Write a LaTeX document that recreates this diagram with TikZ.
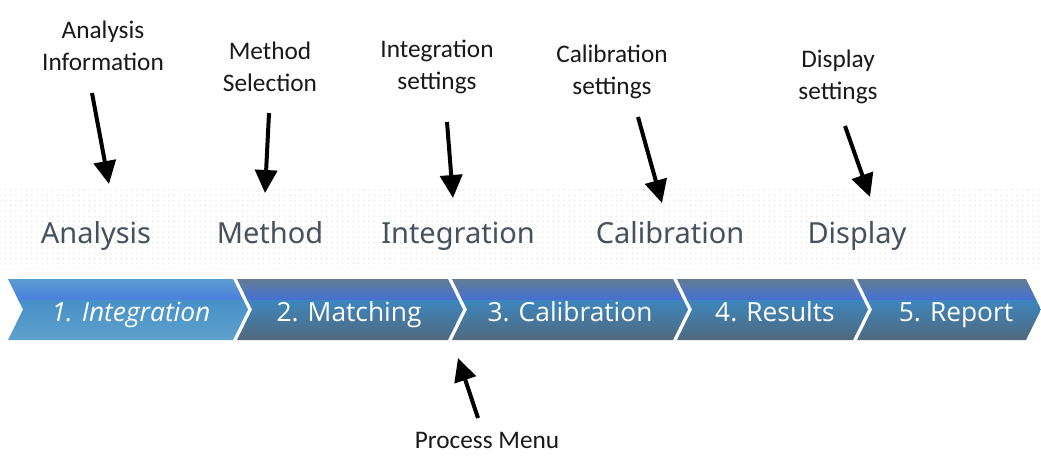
\documentclass[tikz,border=0pt]{standalone}
\usepackage{fontspec}
\setmainfont{Carlito}
\newfontfamily\uifont{Open Sans}
\newfontfamily\lblfont{Noto Sans}
\usetikzlibrary{arrows.meta,positioning,patterns}
\definecolor{labelgray}{HTML}{46515C}
\definecolor{chevtop}{HTML}{627C94}
\definecolor{chevband}{HTML}{4470D6}
\definecolor{chevmid}{HTML}{3D85BD}
\definecolor{chevbot}{HTML}{51697C}
\definecolor{firsttop}{HTML}{5C9BCF}
\definecolor{firstband}{HTML}{4A7FE0}
\definecolor{firstmid}{HTML}{4790C8}
\definecolor{firstbot}{HTML}{5EA1CC}

\begin{document}
\begin{tikzpicture}[x=0.02cm,y=-0.02cm,>={Triangle[length=0.46cm,width=0.44cm]},
  toplbl/.style={align=center,font=\fontsize{14.4}{18.5}\selectfont,text=black!90},
  midlbl/.style={anchor=base,font=\lblfont\fontsize{16.5}{19}\selectfont,text=labelgray},
  stagelbl/.style={anchor=base,font=\uifont\fontsize{15}{18}\selectfont,text=white},
  ptr/.style={->,line width=0.08cm}]
  \useasboundingbox[fill=white] (0,0) rectangle (1041,464);
  \fill[pattern=dots,pattern color=black!9] (0,188) rectangle (1041,268);
  % process chevrons
  \foreach \xa/\xb/\ct/\cb/\cm/\cl in {8/233/firsttop/firstband/firstmid/firstbot,
      237/448/chevtop/chevband/chevmid/chevbot,452/673/chevtop/chevband/chevmid/chevbot,
      677/853/chevtop/chevband/chevmid/chevbot,857/1026/chevtop/chevband/chevmid/chevbot}{
    \begin{scope}
      \clip (\xa,279) -- (\xb,279) -- (\xb+15,309.5) -- (\xb,340) -- (\xa,340) -- (\xa+15,309.5) -- cycle;
      \shade[top color=\ct,bottom color=\cb] (\xa,279) rectangle (\xb+15,300.5);
      \shade[top color=\cm,bottom color=\cl] (\xa,300.5) rectangle (\xb+15,340);
    \end{scope}
  }
  \node[stagelbl] (s1) at (131,321) {\itshape 1. Integration};
  \node[stagelbl] (s2) at (349,321) {2. Matching};
  \node[stagelbl] (s3) at (570,321) {3. Calibration};
  \node[stagelbl] (s4) at (775,321) {4. Results};
  \node[stagelbl] (s5) at (956,321) {5. Report};
  % views
  \node[midlbl] (v1) at (96,243) {Analysis};
  \node[midlbl] (v2) at (270,243) {Method};
  \node[midlbl] (v3) at (458,243) {Integration};
  \node[midlbl] (v4) at (670,243) {Calibration};
  \node[midlbl] (v5) at (857,243) {Display};
  % settings
  \node[toplbl] (t1) at (103,46) {Analysis\\Information};
  \node[toplbl] (t2) at (270,67) {Method\\Selection};
  \node[toplbl] (t3) at (437,67) {Integration\\settings};
  \node[toplbl] (t4) at (612,72) {Calibration\\settings};
  \node[toplbl] (t5) at (838,77) {Display\\settings};
  \coordinate (a1) at (92,93);   \coordinate (b1) at (109,184);
  \coordinate (a2) at (269,113); \coordinate (b2) at (265,193);
  \coordinate (a3) at (447,122); \coordinate (b3) at (453,198);
  \coordinate (a4) at (638,117); \coordinate (b4) at (662,203);
  \coordinate (a5) at (845,126); \coordinate (b5) at (870,197);
  \foreach \i in {1,...,5}
    \draw[ptr] (a\i) -- (b\i);
  % menu
  \node[toplbl] (pm) at (487,440) {Process Menu};
  \coordinate (pa) at (478,418); \coordinate (pb) at (458,358);
  \draw[ptr] (pa) -- (pb);
\end{tikzpicture}
\end{document}
